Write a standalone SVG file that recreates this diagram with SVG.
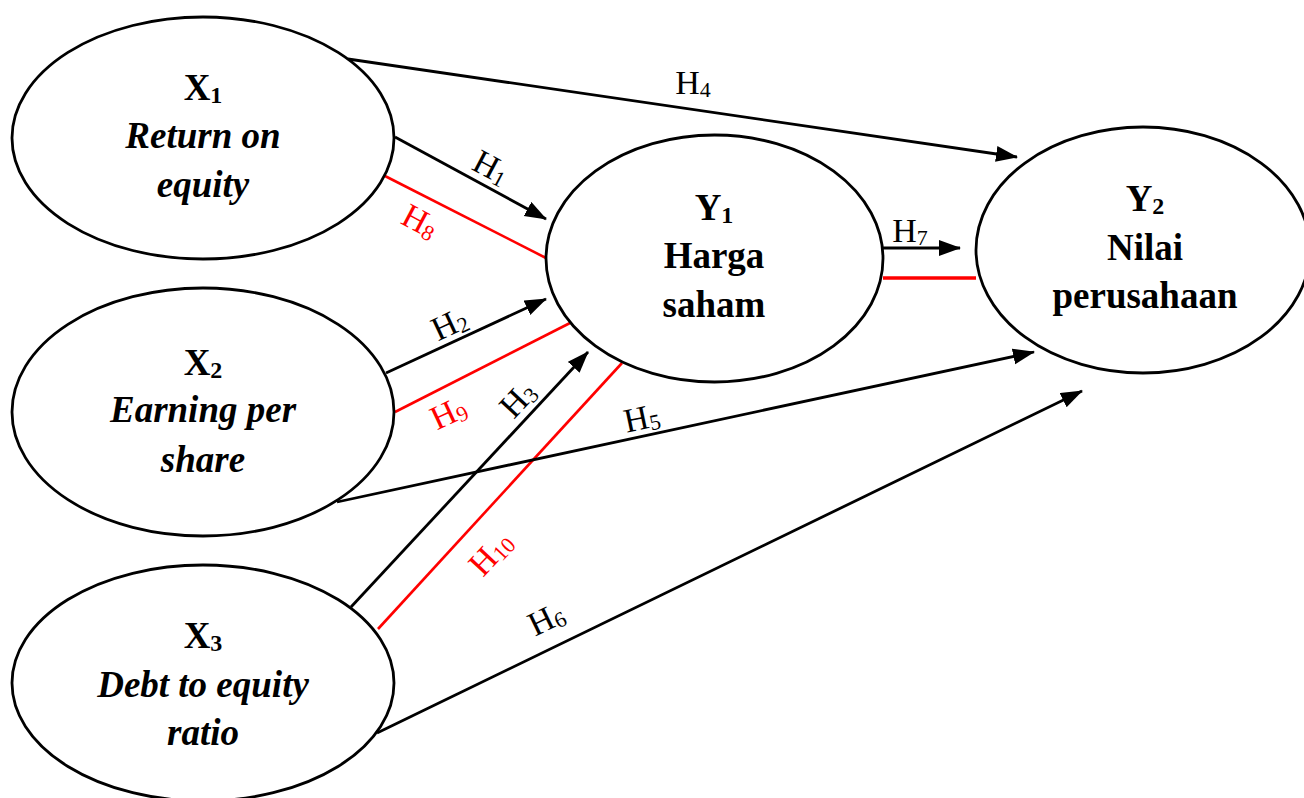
<svg xmlns="http://www.w3.org/2000/svg" width="1304" height="798" viewBox="0 0 1304 798">
<style>
.node{fill:#fff;stroke:#000;stroke-width:2.8}
.t{font-family:"Liberation Serif","Times New Roman",serif;font-size:37px;font-weight:bold;text-anchor:middle;fill:#000}
.i{font-style:italic}
.sub{font-size:24px}
.ln{stroke:#000;stroke-width:2.8;fill:none}
.arr{marker-end:url(#ah)}
.red{stroke:#f00;stroke-width:2.6;fill:none}
.lb{font-family:"Liberation Serif","Times New Roman",serif;font-size:34px;text-anchor:middle;fill:#000}
.lb .s{font-size:22px}
.lr{fill:#f00}
</style>
<defs>
<marker id="ah" markerUnits="userSpaceOnUse" markerWidth="24" markerHeight="18" refX="21" refY="8" orient="auto">
<path d="M0,0 L22,8 L0,16 z" fill="#000"/>
</marker>
</defs>
<g id="connectors">
<line class="ln arr" x1="348" y1="59" x2="1017" y2="157"/>
<line class="ln arr" x1="395" y1="137" x2="546" y2="219"/>
<line class="red" x1="385" y1="176" x2="546" y2="258"/>
<line class="ln arr" x1="386" y1="373" x2="546" y2="299"/>
<line class="red" x1="395" y1="412" x2="570" y2="323"/>
<line class="ln arr" x1="351" y1="607" x2="588" y2="352"/>
<line class="red" x1="378" y1="629" x2="622" y2="363"/>
<line class="ln arr" x1="337" y1="502" x2="1034" y2="352"/>
<line class="ln arr" x1="377" y1="733" x2="1082" y2="391"/>
<line class="ln arr" x1="883" y1="248" x2="960" y2="248"/>
<line x1="883" y1="278" x2="976" y2="278" stroke="#f00" stroke-width="3.5"/>
<text class="lb" x="693" y="94">H<tspan class="s" dy="3">4</tspan></text>
<text class="lb" x="486" y="177" transform="rotate(28 486 177)">H<tspan class="s" dy="3">1</tspan></text>
<text class="lb lr" x="415" y="231" transform="rotate(28 415 231)">H<tspan class="s" dy="3">8</tspan></text>
<text class="lb" x="454" y="334" transform="rotate(-25 454 334)">H<tspan class="s" dy="3">2</tspan></text>
<text class="lb lr" x="453" y="423" transform="rotate(-25 453 423)">H<tspan class="s" dy="3">9</tspan></text>
<text class="lb" x="526" y="407" transform="rotate(-47 526 407)">H<tspan class="s" dy="3">3</tspan></text>
<text class="lb lr" x="499" y="561" transform="rotate(-47 499 561)">H<tspan class="s" dy="3">10</tspan></text>
<text class="lb" x="644" y="429" transform="rotate(-12 644 429)">H<tspan class="s" dy="3">5</tspan></text>
<text class="lb" x="551" y="629" transform="rotate(-26 551 629)">H<tspan class="s" dy="3">6</tspan></text>
<text class="lb" x="910" y="242">H<tspan class="s" dy="3">7</tspan></text>
</g>
<g id="X1">
<ellipse class="node" cx="203" cy="138" rx="191" ry="121"/>
<text class="t" x="203" y="100">X<tspan class="sub" dy="3">1</tspan></text>
<text class="t i" x="203" y="148">Return on</text>
<text class="t i" x="203" y="197">equity</text>
</g>
<g id="X2">
<ellipse class="node" cx="203" cy="412" rx="191" ry="124"/>
<text class="t" x="203" y="375">X<tspan class="sub" dy="3">2</tspan></text>
<text class="t i" x="203" y="422">Earning per</text>
<text class="t i" x="203" y="472">share</text>
</g>
<g id="X3">
<ellipse class="node" cx="203" cy="683" rx="191" ry="118"/>
<text class="t" x="203" y="648">X<tspan class="sub" dy="3">3</tspan></text>
<text class="t i" x="203" y="697">Debt to equity</text>
<text class="t i" x="203" y="745">ratio</text>
</g>
<g id="Y1">
<ellipse class="node" cx="714.5" cy="258.5" rx="168.5" ry="123.5"/>
<text class="t" x="714" y="220">Y<tspan class="sub" dy="3">1</tspan></text>
<text class="t" x="714" y="268">Harga</text>
<text class="t" x="714" y="317">saham</text>
</g>
<g id="Y2">
<ellipse class="node" cx="1143" cy="250" rx="167" ry="123"/>
<text class="t" x="1145" y="211">Y<tspan class="sub" dy="3">2</tspan></text>
<text class="t" x="1145" y="260">Nilai</text>
<text class="t" x="1145" y="308">perusahaan</text>
</g>
</svg>
